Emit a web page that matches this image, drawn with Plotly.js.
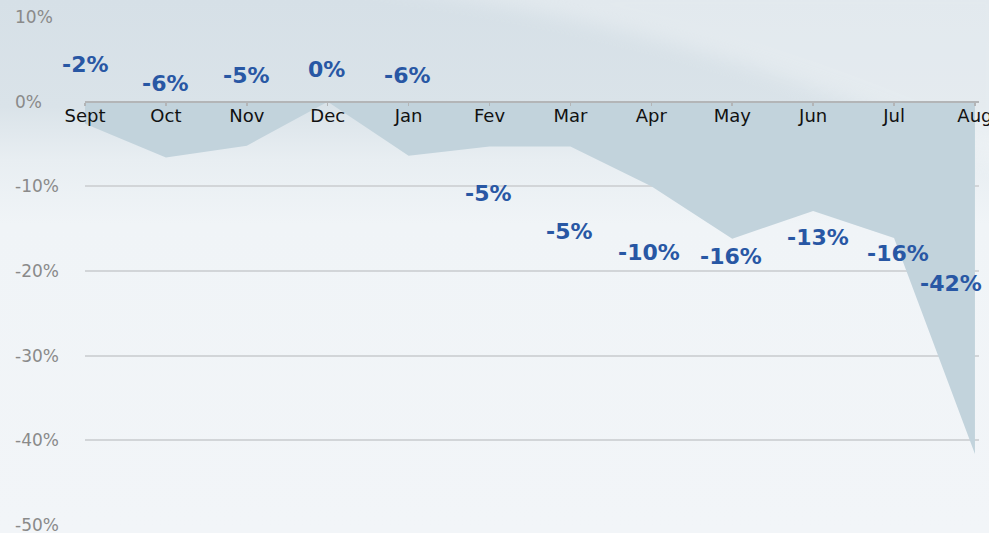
<!DOCTYPE html>
<html>
<head>
<meta charset="utf-8">
<script src="https://cdn.plot.ly/plotly-3.0.1.min.js"></script>
<style>
  html, body { margin: 0; padding: 0; }
  #chart { width: 989px; height: 533px; background-repeat: no-repeat; }
</style>
</head>
<body>
<div id="chart"></div>
<script>
// ---- data ----
const months = ['Sept','Oct','Nov','Dec','Jan','Fev','Mar','Apr','May','Jun','Jul','Aug'];
const changePct = [-2.6, -6.6, -5.2, 0, -6.4, -5.3, -5.3, -10.0, -16.2, -12.9, -16.1, -41.6];
const labelText = ['-2%','-6%','-5%','0%','-6%','-5%','-5%','-10%','-16%','-13%','-16%','-42%'];
const yTickVals = [10, 0, -10, -20, -30, -40, -50];

// ---- label placement (not data) ----
const labelX = [0, 0.99, 1.99, 2.99, 3.98, 4.98, 5.98, 6.97, 7.98, 9.06, 10.05, 10.7];
const labelY = [4.4, 2.1, 3.1, 3.8, 3.1, -10.9, -15.3, -17.8, -18.3, -16.1, -17.9, -21.5];

// ---- background ----
const bgSvg = "<svg xmlns='http://www.w3.org/2000/svg' width='989' height='533'>" +
  "<defs><linearGradient id='g' x1='0' y1='0' x2='0' y2='1'>" +
  "<stop offset='0' stop-color='#d6e0e7'/>" +
  "<stop offset='0.2' stop-color='#dae3e9'/>" +
  "<stop offset='0.3' stop-color='#e8eef2'/>" +
  "<stop offset='0.42' stop-color='#f0f4f7'/>" +
  "<stop offset='1' stop-color='#f2f5f8'/>" +
  "</linearGradient>" +
  "<filter id='b' x='-20%' y='-20%' width='140%' height='140%'><feGaussianBlur stdDeviation='10'/></filter></defs>" +
  "<rect width='989' height='533' fill='url(#g)'/>" +
  "<path d='M330,-20 Q700,20 1010,170 L1010,-20 Z' fill='#ffffff' opacity='0.3' filter='url(#b)'/>" +
  "</svg>";
document.getElementById('chart').style.backgroundImage =
  'url("data:image/svg+xml,' + encodeURIComponent(bgSvg) + '")';

const idx = months.map((_, i) => i);

const trace = {
  type: 'scatter',
  mode: 'lines',
  x: idx,
  y: changePct,
  fill: 'tozeroy',
  fillcolor: '#c2d3dc',
  line: { width: 0, color: '#c2d3dc' },
  hoverinfo: 'skip'
};

const plotL = 85, plotW = 894;
const annotations = [];
yTickVals.forEach(v => {
  annotations.push({
    xref: 'paper', yref: 'y',
    x: (13 - plotL) / plotW, y: v,
    xanchor: 'left', yanchor: 'middle',
    text: v + '%', showarrow: false,
    font: { family: 'DejaVu Sans', size: 17, color: '#8a8a8a' }
  });
});
labelText.forEach((t, i) => {
  annotations.push({
    xref: 'x', yref: 'y',
    x: labelX[i], y: labelY[i],
    xanchor: 'center', yanchor: 'middle',
    text: t, showarrow: false,
    font: { family: 'DejaVu Sans', size: 22, color: '#2857a4', weight: 'bold' }
  });
});

const layout = {
  width: 989, height: 533,
  margin: { l: 85, r: 10, t: 17, b: 8, pad: 0 },
  paper_bgcolor: 'rgba(0,0,0,0)',
  plot_bgcolor: 'rgba(0,0,0,0)',
  showlegend: false,
  xaxis: {
    range: [0, 11.05],
    tickvals: idx, ticktext: months,
    anchor: 'free', position: 50 / 60,
    showline: true, linecolor: '#b3b5b7', linewidth: 2.5,
    ticks: 'outside', ticklen: 3, tickwidth: 1.5, tickcolor: '#b3b5b7',
    ticklabelstandoff: -6,
    ticklabeloverflow: 'allow',
    showgrid: false, zeroline: false,
    tickfont: { family: 'DejaVu Sans', size: 18, color: '#111111' },
    fixedrange: true
  },
  yaxis: {
    range: [-50, 10],
    tickvals: [10, -10, -20, -30, -40, -50],
    showgrid: true, gridcolor: '#d2d5d8', gridwidth: 2,
    showticklabels: false, zeroline: false, showline: false, ticks: '',
    fixedrange: true
  },
  annotations: annotations
};

Plotly.newPlot('chart', [trace], layout, { displayModeBar: false, staticPlot: true });
</script>
</body>
</html>
